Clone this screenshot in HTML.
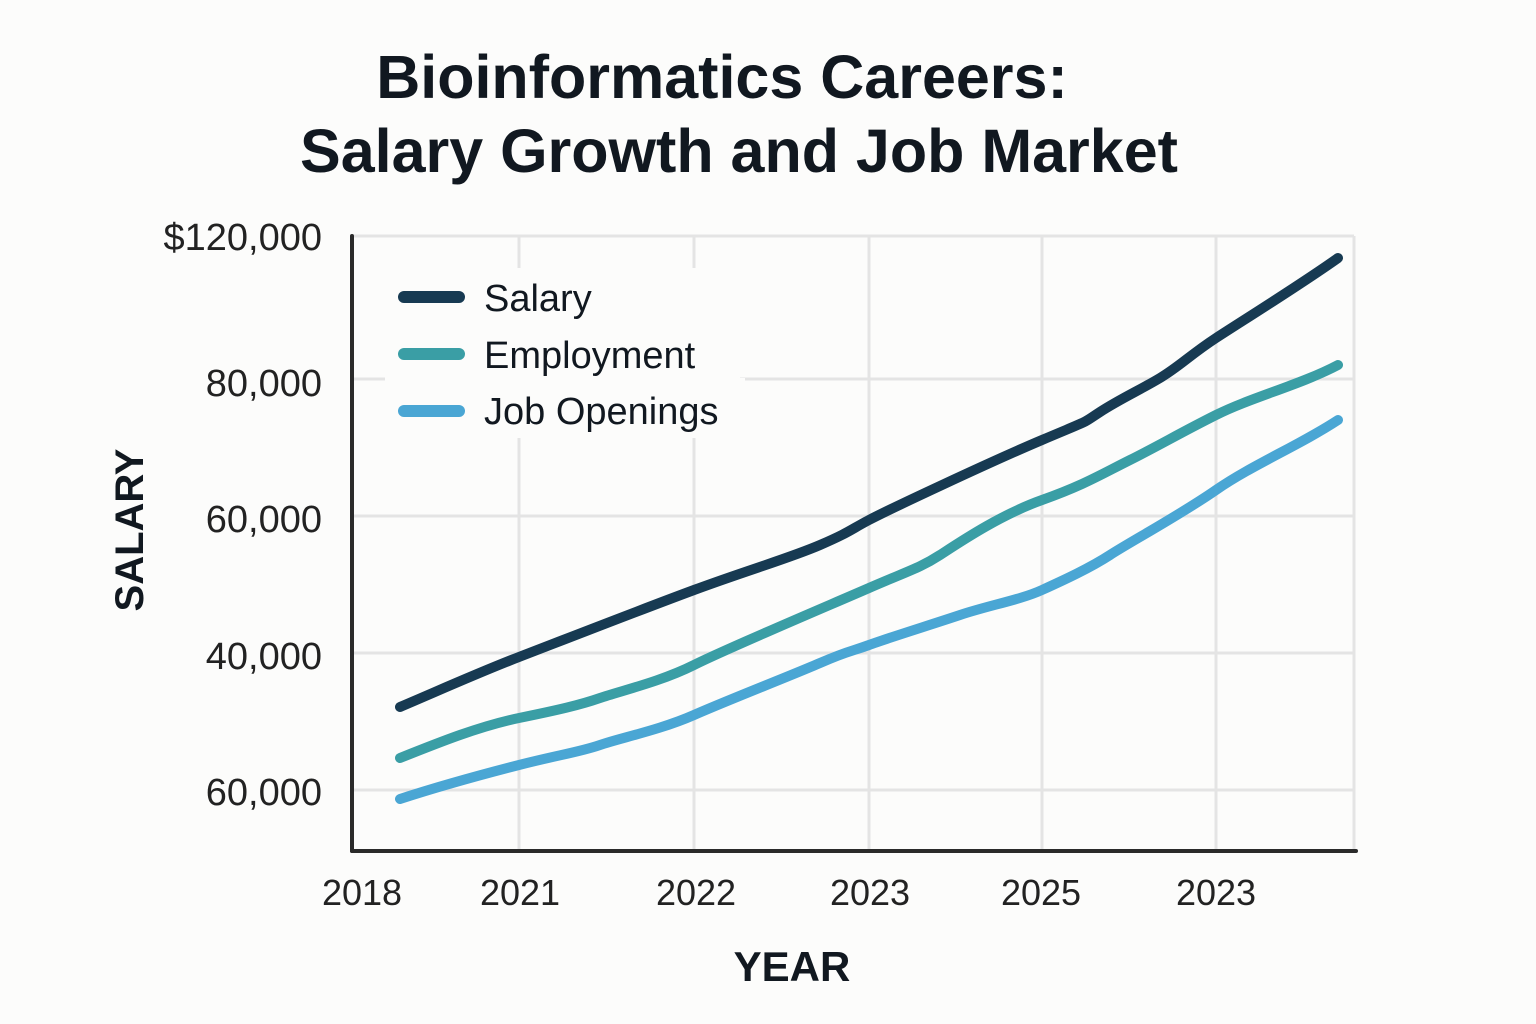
<!DOCTYPE html>
<html><head><meta charset="utf-8"><style>
html,body{margin:0;padding:0;background:#fcfcfb;}
svg{display:block;font-family:"Liberation Sans",sans-serif;}
</style></head><body>
<svg width="1536" height="1024" viewBox="0 0 1536 1024">
<rect width="1536" height="1024" fill="#fcfcfb"/>
<g fill="#111820" font-weight="bold" font-size="61" text-anchor="middle">
<text x="722" y="98">Bioinformatics Careers:</text>
<text x="739" y="172">Salary Growth and Job Market</text>
</g>
<g stroke="#e4e4e4" stroke-width="3" fill="none">
<line x1="352" y1="236" x2="1354" y2="236"/>
<line x1="352" y1="379" x2="1354" y2="379"/>
<line x1="352" y1="516" x2="1354" y2="516"/>
<line x1="352" y1="653" x2="1354" y2="653"/>
<line x1="352" y1="790" x2="1354" y2="790"/>
<line x1="519" y1="236" x2="519" y2="851"/>
<line x1="694" y1="236" x2="694" y2="851"/>
<line x1="869" y1="236" x2="869" y2="851"/>
<line x1="1042" y1="236" x2="1042" y2="851"/>
<line x1="1216" y1="236" x2="1216" y2="851"/>
<line x1="1354" y1="236" x2="1354" y2="851"/>
</g>
<rect x="385" y="268" width="355" height="110" fill="#fcfcfb"/>
<rect x="385" y="378" width="360" height="60" fill="#fcfcfb"/>
<g stroke="#2a2a2a" stroke-width="4" fill="none" stroke-linecap="round">
<line x1="352" y1="236" x2="352" y2="851"/>
<line x1="352" y1="851" x2="1356" y2="851"/>
</g>
<g fill="none" stroke-width="10" stroke-linecap="round" stroke-linejoin="round">
<path stroke="#173a52" d="M400,707 C440,690 480,672 519,657 S640,610 694,590 S790,558 820,545 S850,530 869,520 S990,462 1042,440 S1080,425 1100,412 S1140,390 1160,378 S1190,355 1216,338 S1300,285 1338,258"/>
<path stroke="#3a9ea5" d="M400,758 C440,742 480,726 519,718 S580,705 600,698 S660,682 694,665 S830,605 869,588 S920,568 940,555 S1000,515 1042,500 S1100,475 1130,460 S1180,433 1216,415 S1300,385 1338,365"/>
<path stroke="#4aa6d4" d="M400,799 C440,786 480,775 519,765 S580,752 600,745 S660,730 694,715 S790,676 820,663 S850,652 869,645 S930,625 960,615 S1020,600 1042,590 S1090,568 1110,555 S1180,515 1216,490 S1300,445 1338,420"/>
</g>
<g stroke-width="12" stroke-linecap="round">
<line x1="404" y1="297" x2="459" y2="297" stroke="#173a52"/>
<line x1="404" y1="354" x2="459" y2="354" stroke="#3a9ea5"/>
<line x1="404" y1="411" x2="459" y2="411" stroke="#4aa6d4"/>
</g>
<g fill="#111820" font-size="38">
<text x="484" y="311">Salary</text>
<text x="484" y="368">Employment</text>
<text x="484" y="424">Job Openings</text>
</g>
<g fill="#222" font-size="38" text-anchor="end">
<text x="322" y="250">$120,000</text>
<text x="322" y="396">80,000</text>
<text x="322" y="532">60,000</text>
<text x="322" y="669">40,000</text>
<text x="322" y="805">60,000</text>
</g>
<g fill="#222" font-size="36" text-anchor="middle">
<text x="362" y="905">2018</text>
<text x="520" y="905">2021</text>
<text x="696" y="905">2022</text>
<text x="870" y="905">2023</text>
<text x="1041" y="905">2025</text>
<text x="1216" y="905">2023</text>
</g>
<text x="792" y="981" fill="#111820" font-size="42" font-weight="bold" text-anchor="middle">YEAR</text>
<text transform="translate(143,530) rotate(-90)" fill="#111820" font-size="40" font-weight="bold" text-anchor="middle">SALARY</text>
</svg>
</body></html>
